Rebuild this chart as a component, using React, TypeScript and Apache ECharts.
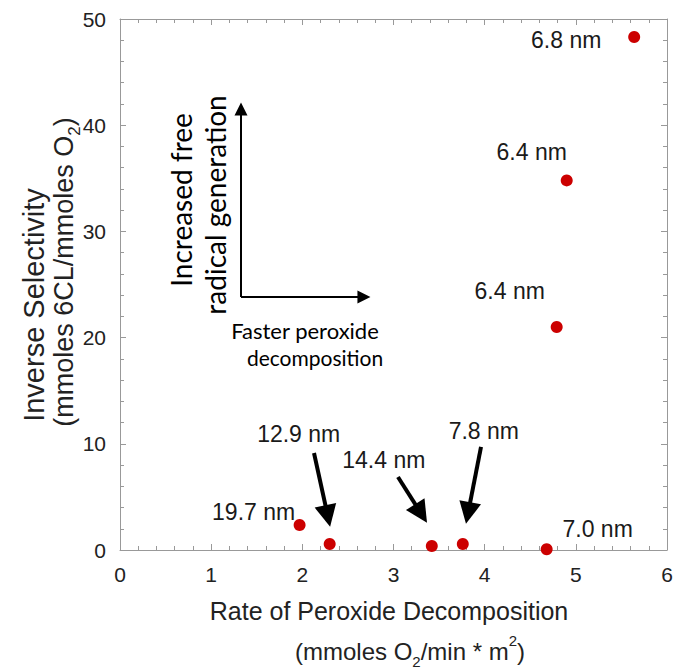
import React, { useEffect, useRef } from "react";
import * as echarts from "echarts";

// Rate of peroxide decomposition (mmoles O2 / min * m2)
const xValues = [1.97, 2.3, 3.42, 3.76, 4.68, 5.64, 4.9, 4.79];
// Inverse selectivity (mmoles 6CL / mmoles O2)
const yValues = [2.35, 0.56, 0.38, 0.56, 0.07, 48.3, 34.8, 21.0];
const sizeLabels = ["19.7 nm", "12.9 nm", "14.4 nm", "7.8 nm", "7.0 nm", "6.8 nm", "6.4 nm", "6.4 nm"];

// label offsets (px) relative to each point
const labelOffsets = [
  [-46, -13],
  [-31, -110],
  [-48, -86],
  [21, -113],
  [51, -20],
  [-68, 3],
  [-35, -28],
  [-47, -36],
];

// pointer arrows, in data units: [start, end]
const pointerArrows = [
  [[2.128, 9.13], [2.279, 3.2]],
  [[3.049, 6.87], [3.303, 3.44]],
  [[3.96, 9.7], [3.818, 3.48]],
];
// concept arrows, in data units
const conceptArrows = [
  [[1.327, 23.82], [1.327, 41.53]],
  [[1.327, 23.82], [2.676, 23.82]],
];

const X_MIN = 0, X_MAX = 6, X_STEP = 1;
const Y_MIN = 0, Y_MAX = 50, Y_STEP = 10;

export default function App() {
  const ref = useRef<HTMLDivElement>(null);
  useEffect(() => {
    const chart = echarts.init(ref.current!, null, { renderer: "svg" });
    const font = "'Liberation Sans', Arial, sans-serif";
    const cal = "Lato, 'Open Sans', sans-serif";
    const axisCommon: any = {
      type: "value",
      axisLine: { show: true, onZero: false, lineStyle: { color: "#999", width: 1 } },
      axisTick: { show: true, inside: true, length: 6, lineStyle: { color: "#999" } },
      minorTick: { show: true, splitNumber: 5, length: 4, lineStyle: { color: "#999" } },
      splitLine: { show: false },
      minorSplitLine: { show: false },
    };
    const center = { align: "center", verticalAlign: "middle", textAlign: "center", textVerticalAlign: "middle" };
    const option: any = {
      animation: false,
      backgroundColor: "#fff",
      grid: { left: 120, top: 19, right: 16, bottom: 121, containLabel: false },
      xAxis: [
        {
          ...axisCommon, min: X_MIN, max: X_MAX, interval: X_STEP, position: "bottom",
          axisLabel: { fontSize: 21, color: "#222", margin: 14, fontFamily: font },
        },
        {
          ...axisCommon, min: X_MIN, max: X_MAX, interval: X_STEP, position: "top",
          axisLabel: { show: false },
        },
      ],
      yAxis: [
        {
          ...axisCommon, min: Y_MIN, max: Y_MAX, interval: Y_STEP, position: "left",
          axisLabel: { fontSize: 21, color: "#222", margin: 14, fontFamily: font },
        },
        {
          ...axisCommon, min: Y_MIN, max: Y_MAX, interval: Y_STEP, position: "right",
          axisLabel: { show: false },
        },
      ],
      series: [
        {
          type: "lines",
          coordinateSystem: "cartesian2d",
          xAxisIndex: 0,
          yAxisIndex: 0,
          data: pointerArrows.map((c) => ({ coords: c })),
          symbol: ["none", "triangle"],
          symbolSize: [17, 22],
          itemStyle: { color: "#000" },
          lineStyle: { color: "#000", width: 4, opacity: 1, curveness: 0 },
          z: 3,
        },
        {
          type: "lines",
          coordinateSystem: "cartesian2d",
          xAxisIndex: 0,
          yAxisIndex: 0,
          data: conceptArrows.map((c) => ({ coords: c })),
          symbol: ["none", "triangle"],
          symbolSize: [11, 13],
          itemStyle: { color: "#000" },
          lineStyle: { color: "#000", width: 2, opacity: 1, curveness: 0 },
          z: 3,
        },
        {
          type: "scatter",
          xAxisIndex: 0,
          yAxisIndex: 0,
          symbol: "circle",
          symbolSize: 12,
          itemStyle: { color: "#cc0000", opacity: 1 },
          data: xValues.map((x, i) => ({
            value: [x, yValues[i]],
            label: { offset: labelOffsets[i] },
          })),
          label: {
            show: true,
            position: "inside",
            formatter: (p: any) => sizeLabels[p.dataIndex],
            fontSize: 23,
            color: "#1a1a1a",
            opacity: 1,
            fontFamily: font,
          },
          z: 5,
        },
      ],
      graphic: [
        {
          type: "text", x: 389, y: 611,
          style: {
            text: "Rate of Peroxide Decomposition", fontSize: 25, fontFamily: font, fill: "#222",
            ...center,
          },
        },
        {
          type: "text", x: 410, y: 651,
          style: {
            text: "(mmoles O{sub|2}/min * m{sup|2})", fontSize: 24, fontFamily: font, fill: "#222",
            lineHeight: 36,
            ...center,
            rich: {
              sub: { fontSize: 15, fontFamily: font, fill: "#222", verticalAlign: "bottom", lineHeight: 36 },
              sup: { fontSize: 15, fontFamily: font, fill: "#222", verticalAlign: "top", lineHeight: 36 },
            },
          },
        },
        {
          type: "text", x: 34, y: 305, rotation: Math.PI / 2,
          style: {
            text: "Inverse Selectivity", fontSize: 29, fontFamily: font, fill: "#222",
            ...center,
          },
        },
        {
          type: "text", x: 64, y: 272, rotation: Math.PI / 2,
          style: {
            text: "(mmoles 6CL/mmoles O{sub|2})", fontSize: 27, fontFamily: font, fill: "#222",
            lineHeight: 38,
            ...center,
            rich: {
              sub: { fontSize: 17, fontFamily: font, fill: "#222", verticalAlign: "bottom", lineHeight: 38 },
            },
          },
        },
        {
          type: "text", x: 181, y: 200, rotation: Math.PI / 2,
          style: {
            text: "Increased free", fontSize: 28, fontFamily: cal, fill: "#000",
            ...center,
          },
        },
        {
          type: "text", x: 215, y: 205, rotation: Math.PI / 2,
          style: {
            text: "radical generation", fontSize: 28, fontFamily: cal, fill: "#000",
            ...center,
          },
        },
        {
          type: "text", x: 305, y: 330,
          style: {
            text: "Faster peroxide", fontSize: 22, fontFamily: cal, fill: "#000",
            ...center,
          },
        },
        {
          type: "text", x: 315, y: 357,
          style: {
            text: "decomposition", fontSize: 21, fontFamily: cal, fill: "#000",
            ...center,
          },
        },
      ],
    };
    chart.setOption(option);
    return () => chart.dispose();
  }, []);
  return (
    <div
      ref={ref}
      style={{ position: "absolute", left: 0, top: 0, width: 683, height: 671, background: "#fff" }}
    />
  );
}
